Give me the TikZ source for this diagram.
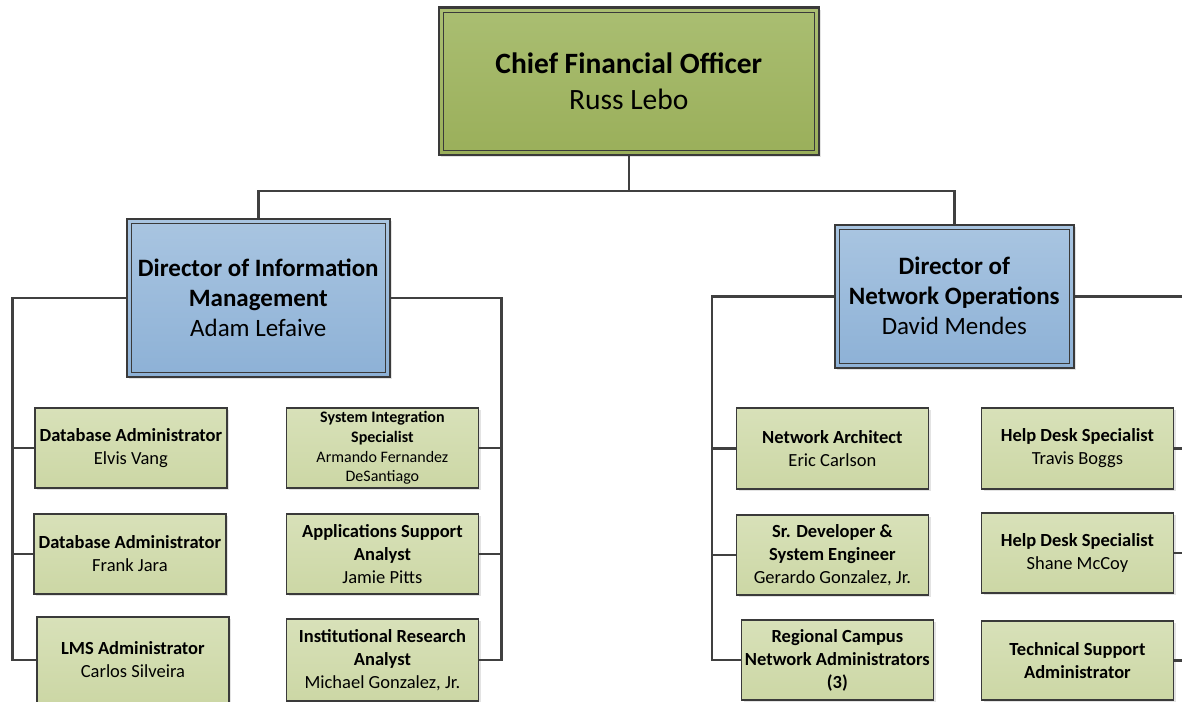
\documentclass[tikz,border=0pt]{standalone}
\usepackage{fontspec}
\setmainfont{Carlito}
\usetikzlibrary{shadows}
\definecolor{linecol}{HTML}{404040}
\definecolor{bordcol}{HTML}{3A3A3A}
\definecolor{cfoTop}{HTML}{AABE72}
\definecolor{cfoBot}{HTML}{9AAF5A}
\definecolor{dirTop}{HTML}{A9C5E1}
\definecolor{dirBot}{HTML}{8DB1D6}
\definecolor{smTop}{HTML}{D8E1B9}
\definecolor{smBot}{HTML}{CCD7A5}
\tikzset{
  conn/.style={draw=linecol, line width=2.6pt},
  box/.style={anchor=north west, inner sep=0pt, align=center, draw=bordcol,
    drop shadow={shadow xshift=2.5pt, shadow yshift=-2.5pt, opacity=0.22}},
  dblbox/.style={box, line width=2.6pt,
    path picture={\draw[bordcol, line width=1.4pt]
      ([shift={(4.5,-4.5)}]path picture bounding box.north west) rectangle
      ([shift={(-4.5,4.5)}]path picture bounding box.south east);}},
  cfobox/.style={dblbox, top color=cfoTop, bottom color=cfoBot,
    font=\fontsize{29.5}{36}\selectfont},
  dirbox/.style={dblbox, top color=dirTop, bottom color=dirBot,
    font=\fontsize{25}{30}\selectfont},
  smbox/.style={box, line width=1.8pt, top color=smTop, bottom color=smBot,
    font=\fontsize{18.5}{23}\selectfont, minimum width=192pt},
}
\begin{document}
\begin{tikzpicture}[x=1pt,y=1pt]
\useasboundingbox (0,0) rectangle (1182,-701);
\clip (0,0) rectangle (1182,-701);

% top
\node[cfobox, minimum width=380pt, minimum height=147pt] (cfo) at (437.5,-6.5)
  {\textbf{Chief Financial Officer}\\Russ Lebo};

% directors
\node[dirbox, minimum width=263pt, minimum height=158pt] (dirL) at (125.5,-217.5)
  {\textbf{Director of Information}\\\textbf{Management}\\Adam Lefaive};
\node[dirbox, minimum width=239pt, minimum height=143pt] (dirR) at (833.5,-223.5)
  {\textbf{Director of}\\\textbf{Network Operations}\\David Mendes};

% left group, left column
\node[smbox, minimum height=80pt] (dba1) at (34,-407)
  {\textbf{Database Administrator}\\Elvis Vang};
\node[smbox, minimum height=80pt] (dba2) at (33,-513)
  {\textbf{Database Administrator}\\Frank Jara};
\node[smbox, minimum height=86pt] (lms) at (36,-616)
  {\textbf{LMS Administrator}\\Carlos Silveira};

% left group, right column
\node[smbox, minimum height=80pt, font=\fontsize{16}{19.7}\selectfont] (sis) at (285.5,-407)
  {\textbf{System Integration}\\\textbf{Specialist}\\Armando Fernandez\\DeSantiago};
\node[smbox, minimum height=80pt] (asa) at (285.5,-513)
  {\textbf{Applications Support}\\\textbf{Analyst}\\Jamie Pitts};
\node[smbox, minimum height=82pt] (ira) at (285.5,-618)
  {\textbf{Institutional Research}\\\textbf{Analyst}\\Michael Gonzalez, Jr.};

% right group, left column
\node[smbox, minimum height=81pt] (na) at (735.5,-407)
  {\textbf{Network Architect}\\Eric Carlson};
\node[smbox, minimum height=80pt] (srdev) at (735.5,-514)
  {\textbf{Sr. Developer \&}\\\textbf{System Engineer}\\Gerardo Gonzalez, Jr.};
\node[smbox, minimum height=80pt] (rcna) at (740.5,-619)
  {\textbf{Regional Campus}\\\textbf{Network Administrators}\\\textbf{(3)}};

% right group, right column
\node[smbox, minimum height=81pt] (hds1) at (980.5,-407)
  {\textbf{Help Desk Specialist}\\Travis Boggs};
\node[smbox, minimum height=80pt] (hds2) at (980.5,-512)
  {\textbf{Help Desk Specialist}\\Shane McCoy};
\node[smbox, minimum height=79pt] (tsa) at (980.5,-620)
  {\textbf{Technical Support}\\\textbf{Administrator}};

% connectors
\coordinate (busY) at (0,-191);
\coordinate (tLL) at (12.5,0);
\coordinate (tLR) at (501.5,0);
\coordinate (tRL) at (712,0);
\coordinate (tRR) at (1195,0);

\draw[conn] (cfo.south) -- (cfo.south |- busY) coordinate (busC);
\draw[conn] (dirL.north) |- (busC) -| (dirR.north);

\draw[conn] (dirL.west) -| (lms.west -| tLL) -- (lms.west);
\draw[conn] (dba1.west -| tLL) -- (dba1.west);
\draw[conn] (dba2.west -| tLL) -- (dba2.west);

\draw[conn] (dirL.east) -| (ira.east -| tLR) -- (ira.east);
\draw[conn] (sis.east -| tLR) -- (sis.east);
\draw[conn] (asa.east -| tLR) -- (asa.east);

\draw[conn] (dirR.west) -| (rcna.west -| tRL) -- (rcna.west);
\draw[conn] (na.west -| tRL) -- (na.west);
\draw[conn] (srdev.west -| tRL) -- (srdev.west);

\draw[conn] (dirR.east) -| (tsa.east -| tRR) -- (tsa.east);
\draw[conn] (hds1.east -| tRR) -- (hds1.east);
\draw[conn] (hds2.east -| tRR) -- (hds2.east);
\end{tikzpicture}
\end{document}
